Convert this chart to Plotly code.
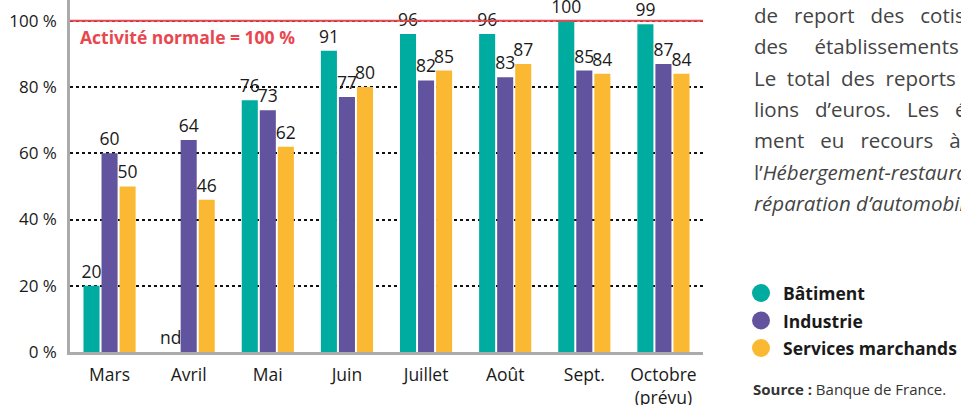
import plotly.graph_objects as go

# ---- data ----
categories = ["Mars", "Avril", "Mai", "Juin", "Juillet", "Août", "Sept.", "Octobre<br>(prévu)"]
batiment = [20, None, 76, 91, 96, 96, 100, 99]
industrie = [60, 64, 73, 77, 82, 83, 85, 87]
services = [50, 46, 62, 80, 85, 87, 84, 84]
series_names = ["Bâtiment", "Industrie", "Services marchands"]
colors = ["#00AB9F", "#61539E", "#FBB933"]
y_ticks = [0, 20, 40, 60, 80, 100]
y_tick_labels = ["0 %", "20 %", "40 %", "60 %", "80 %", "100 %"]
normal_level = 100

W, H = 961, 405
ML, MR, MT, MB = 70, 258, 0, 53
PW, PH = W - ML - MR, H - MT - MB


def px(x):
    return (x - ML) / PW


def py(y):
    return (H - MB - y) / PH


FONT = "Open Sans"
fig = go.Figure()
for name, vals, col in zip(series_names, [batiment, industrie, services], colors):
    yv = [v if v is not None else 0 for v in vals]
    txt = [str(v) if v is not None else "nd" for v in vals]
    fig.add_trace(go.Bar(
        x=categories, y=yv, name=name, marker_color=col, marker_line_width=0,
        text=txt, textposition="outside", constraintext="none", cliponaxis=False,
        outsidetextfont=dict(family=FONT, size=17.5, color="#1a1a1a"),
        showlegend=False, hoverinfo="skip"))

fig.update_layout(
    width=W, height=H, margin=dict(l=ML, r=MR, t=MT, b=MB, autoexpand=False),
    paper_bgcolor="white", plot_bgcolor="white",
    barmode="group", bargap=0.316, bargroupgap=0.11,
    font=dict(family=FONT, color="#1a1a1a"),
    xaxis=dict(showgrid=False, showline=True, linecolor="#ababab", linewidth=2.5,
               tickfont=dict(size=17.5, color="#1a1a1a"), ticks="", ticklabelstandoff=5,
               zeroline=False, automargin=False),
    yaxis=dict(range=[0, 106.3], tickvals=y_ticks, ticktext=y_tick_labels,
               showgrid=True, gridcolor="#111111", griddash="dot", gridwidth=1.5,
               showline=True, linecolor="#ababab", linewidth=2.5, zeroline=False,
               tickfont=dict(size=17, color="#1a1a1a"), ticks="", ticklabelstandoff=7,
               automargin=False),
)

# red 100% line (drawn over grid)
fig.add_shape(type="line", xref="paper", x0=0, x1=1, yref="y", y0=normal_level, y1=normal_level,
              line=dict(color="#E8474F", width=2))
fig.add_annotation(xref="paper", yref="paper", x=px(78), y=py(37), xanchor="left", yanchor="middle",
                   text="<b>Activité normale = 100 %</b>", showarrow=False,
                   font=dict(family=FONT, size=17.5, color="#E8474F"))

# side paragraph (clipped at the page edge, as in the reference)
NB = "\u00a0"
lines = [
    "de" + NB * 3 + "report" + NB * 3 + "des" + NB * 3 + "cotisations",
    "des" + NB * 5 + "établissements",
    "Le" + NB * 2 + "total" + NB * 2 + "des" + NB * 2 + "reports",
    "lions" + NB * 3 + "d’euros." + NB * 3 + "Les" + NB * 3 + "établissements",
    "ment" + NB * 3 + "eu" + NB * 3 + "recours" + NB * 3 + "à",
    "l’<i>Hébergement-restauration</i>",
    "<i>réparation d’automobiles</i>",
]
for i, t in enumerate(lines):
    fig.add_annotation(xref="paper", yref="paper", x=px(752), y=py(15 + i * 31.3),
                       xanchor="left", yanchor="middle", text=t, showarrow=False,
                       font=dict(family=FONT, size=20.5, color="#444444"))

# custom legend
for i, (name, col) in enumerate(zip(series_names, colors)):
    cy = 293 + i * 27.5
    fig.add_shape(type="circle", xref="paper", yref="paper",
                  x0=px(752), x1=px(770), y0=py(cy + 9), y1=py(cy - 9),
                  fillcolor=col, line_width=0)
    fig.add_annotation(xref="paper", yref="paper", x=px(781), y=py(cy), xanchor="left",
                       yanchor="middle", text=f"<b>{name}</b>", showarrow=False,
                       font=dict(family=FONT, size=17.5, color="#1a1a1a"))

fig.add_annotation(xref="paper", yref="paper", x=px(751), y=py(389), xanchor="left",
                   yanchor="middle", text="<b>Source :</b> Banque de France.", showarrow=False,
                   font=dict(family=FONT, size=15, color="#333333"))

fig.write_html("out.html", config={"displayModeBar": False},
               post_script="document.body.style.margin='0px';")
